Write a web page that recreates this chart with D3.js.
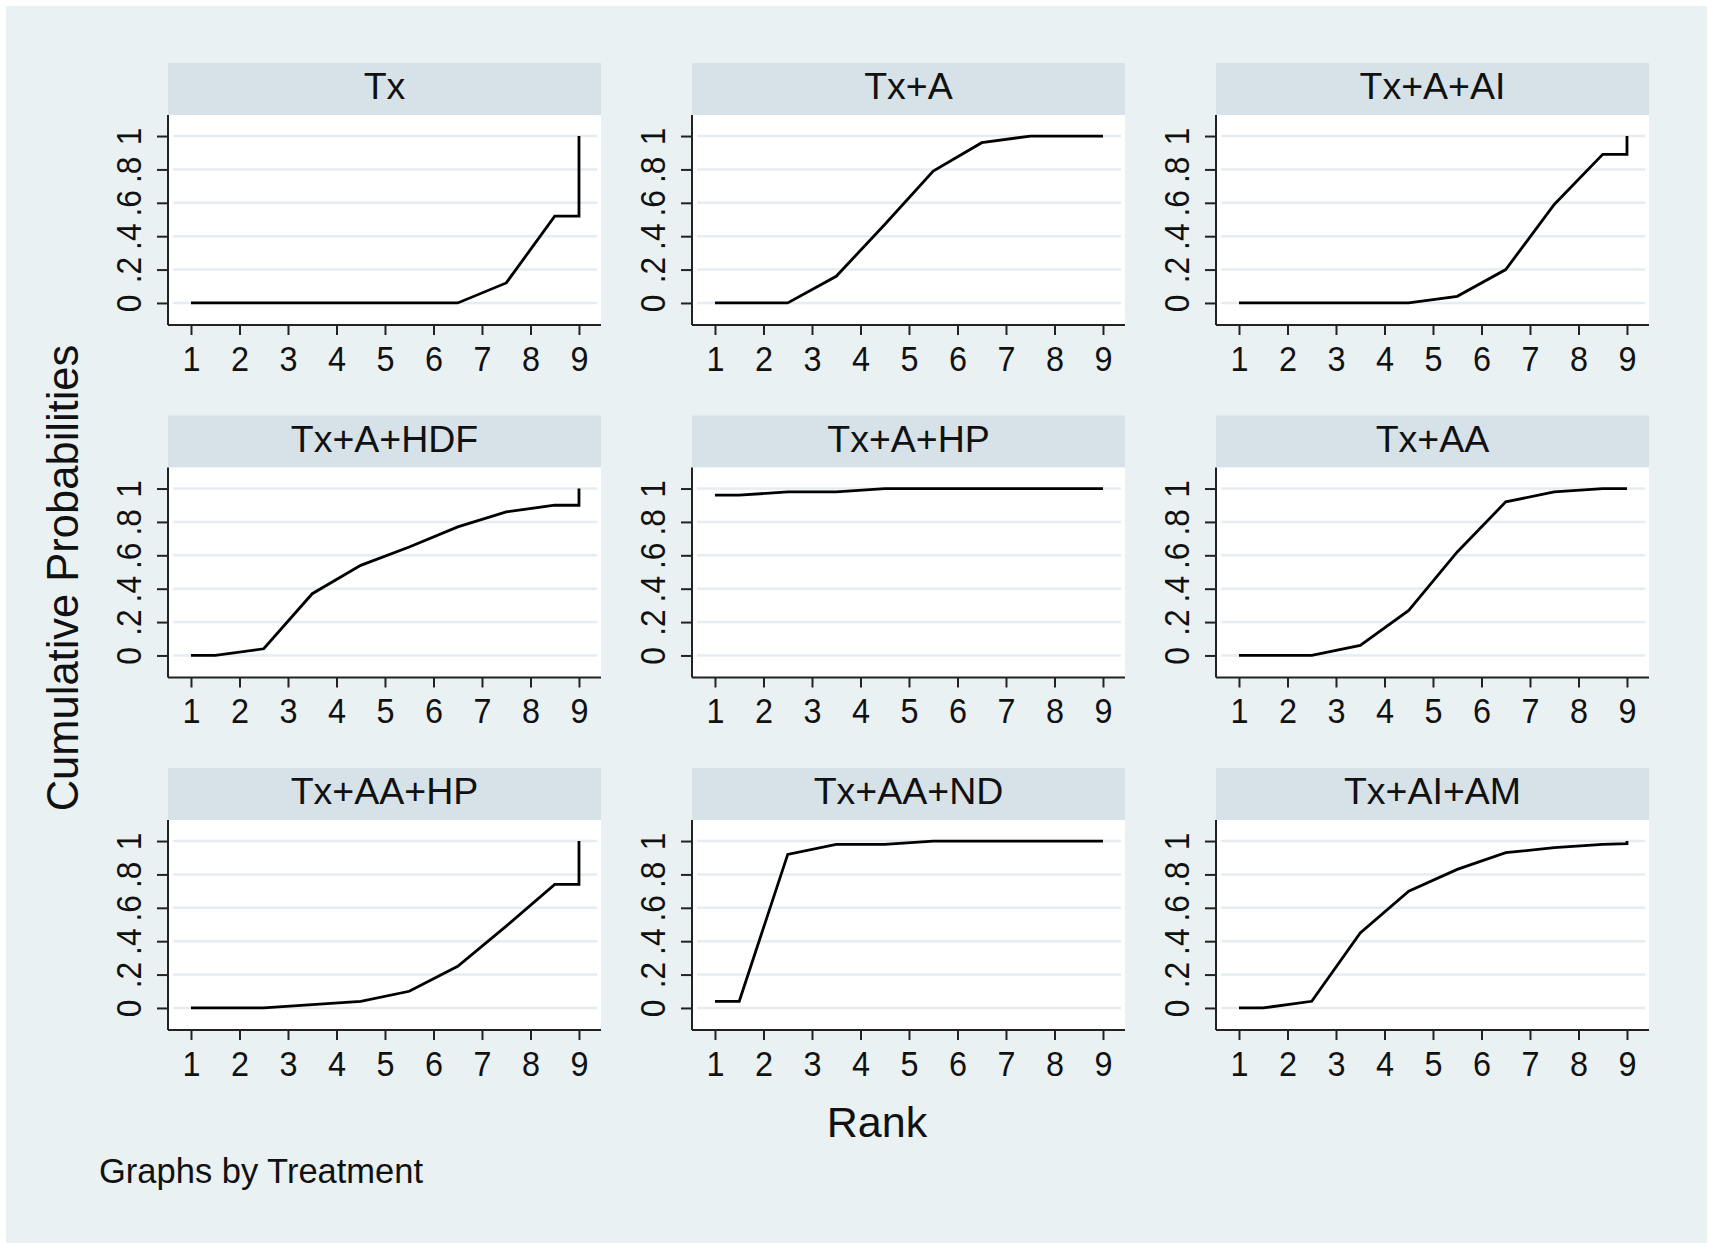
<!DOCTYPE html>
<html>
<head>
<meta charset="utf-8">
<script src="https://cdn.jsdelivr.net/npm/d3@7"></script>
<style>
  body { margin: 0; background: #ffffff; }
  svg { display: block; }
  text { font-family: "Liberation Sans", Arial, Helvetica, sans-serif; fill: #111; }
</style>
</head>
<body>
<svg id="chart" width="1713" height="1249"></svg>
<script>
// panel titles, in the order they appear (row by row)
var treatments = ["Tx", "Tx+A", "Tx+A+AI",
                  "Tx+A+HDF", "Tx+A+HP", "Tx+AA",
                  "Tx+AA+HP", "Tx+AA+ND", "Tx+AI+AM"]

// rank positions of the line vertices (the drawn curve steps at half ranks)
var rankPos = [1, 1.5, 2.5, 3.5, 4.5, 5.5, 6.5, 7.5, 8.5, 9, 9]

// cumulative probabilities, one value per vertex above
var cumTx       = [0, 0, 0, 0, 0, 0, 0, .12, .52, .52, 1]
var cumTxA      = [0, 0, 0, .16, .47, .79, .96, 1, 1, 1, 1]
var cumTxAAI    = [0, 0, 0, 0, 0, .04, .20, .59, .89, .89, 1]
var cumTxAHDF   = [0, 0, .04, .37, .54, .65, .77, .86, .90, .90, 1]
var cumTxAHP    = [.96, .96, .98, .98, 1, 1, 1, 1, 1, 1, 1]
var cumTxAA     = [0, 0, 0, .06, .27, .62, .92, .98, 1, 1, 1]
var cumTxAAHP   = [0, 0, 0, .02, .04, .10, .25, .49, .74, .74, 1]
var cumTxAAND   = [.04, .04, .92, .98, .98, 1, 1, 1, 1, 1, 1]
var cumTxAIAM   = [0, 0, .04, .45, .70, .83, .93, .96, .98, .985, 1]

var series = [cumTx, cumTxA, cumTxAAI, cumTxAHDF, cumTxAHP, cumTxAA,
              cumTxAAHP, cumTxAAND, cumTxAIAM]

// axis ticks
var xTicks = [1, 2, 3, 4, 5, 6, 7, 8, 9]
var yTicks = [0, .2, .4, .6, .8, 1]
var yTickLabels = ["0", ".2", ".4", ".6", ".8", "1"]

// layout
var colLeft = [168, 692, 1216]
var rowTop = [115, 467.5, 820]
var plotW = 433, plotH = 210, stripH = 52

var svg = d3.select("#chart")

// graph region
svg.append("rect")
    .attr("x", 6).attr("y", 6)
    .attr("width", 1701).attr("height", 1237)
    .attr("fill", "#eaf1f3")

var x = d3.scaleLinear().domain([0.526, 9.454]).range([0, plotW])
var y = d3.scaleLinear().domain([-0.132, 1.126]).range([plotH, 0])

var line = d3.line()
    .x(function(d) { return x(d[0]) })
    .y(function(d) { return y(d[1]) })

function drawPanel(i) {
    var g = svg.append("g")
        .attr("transform", "translate(" + colLeft[i % 3] + "," + rowTop[Math.floor(i / 3)] + ")")

    // strip with the treatment name
    g.append("rect")
        .attr("x", 0).attr("y", -stripH)
        .attr("width", plotW).attr("height", stripH)
        .attr("fill", "#d7e2e8")
    g.append("text")
        .attr("x", plotW / 2).attr("y", -stripH + 36)
        .attr("text-anchor", "middle")
        .style("font-size", "37.5px")
        .text(treatments[i])

    // plot region
    g.append("rect")
        .attr("width", plotW).attr("height", plotH)
        .attr("fill", "#ffffff")

    g.selectAll(".grid").data(yTicks).enter().append("line")
        .attr("x1", 5).attr("x2", plotW - 4)
        .attr("y1", function(d) { return y(d) })
        .attr("y2", function(d) { return y(d) })
        .attr("stroke", "#e6ecef")
        .attr("stroke-width", 2.5)

    // axes
    var xAxis = d3.axisBottom(x).tickValues(xTicks).tickSize(10).tickPadding(10)
    var gx = g.append("g").attr("transform", "translate(0," + plotH + ")").call(xAxis)
    gx.select(".domain").attr("d", "M0,0H" + plotW)
    gx.selectAll("line, path").attr("stroke", "#222").attr("stroke-width", 2)
    gx.selectAll(".tick text")
        .style("font-size", "36px").attr("fill", "#111")
        .attr("transform", function() {
            var ty = +d3.select(this).attr("y")
            return "translate(0," + ty + ") scale(0.9,1) translate(0," + (-ty) + ")"
        })

    var yAxis = d3.axisLeft(y).tickValues(yTicks).tickSize(11)
        .tickFormat(function(d, k) { return yTickLabels[k] })
    var gy = g.append("g").call(yAxis)
    gy.select(".domain").attr("d", "M0,0V" + plotH)
    gy.selectAll("line, path").attr("stroke", "#222").attr("stroke-width", 2)
    gy.selectAll(".tick text")
        .style("font-size", "36px").attr("fill", "#111")
        .attr("x", 0).attr("dy", 0)
        .attr("text-anchor", "middle")
        .attr("transform", "translate(-27,0) rotate(-90) scale(0.88,1)")

    // cumulative probability curve
    var pts = rankPos.map(function(r, k) { return [r, series[i][k]] })
    g.append("path")
        .datum(pts)
        .attr("d", line)
        .attr("fill", "none")
        .attr("stroke", "#000")
        .attr("stroke-width", 2.8)
        .attr("stroke-linejoin", "miter")
}

for (var i = 0; i < treatments.length; i++) drawPanel(i)

// titles
svg.append("text")
    .attr("transform", "translate(78,578) rotate(-90)")
    .attr("text-anchor", "middle")
    .style("font-size", "43.5px")
    .text("Cumulative Probabilities")

svg.append("text")
    .attr("x", 877).attr("y", 1137)
    .attr("text-anchor", "middle")
    .style("font-size", "43px")
    .text("Rank")

svg.append("text")
    .attr("x", 99).attr("y", 1183)
    .style("font-size", "34.5px")
    .text("Graphs by Treatment")
</script>
</body>
</html>
